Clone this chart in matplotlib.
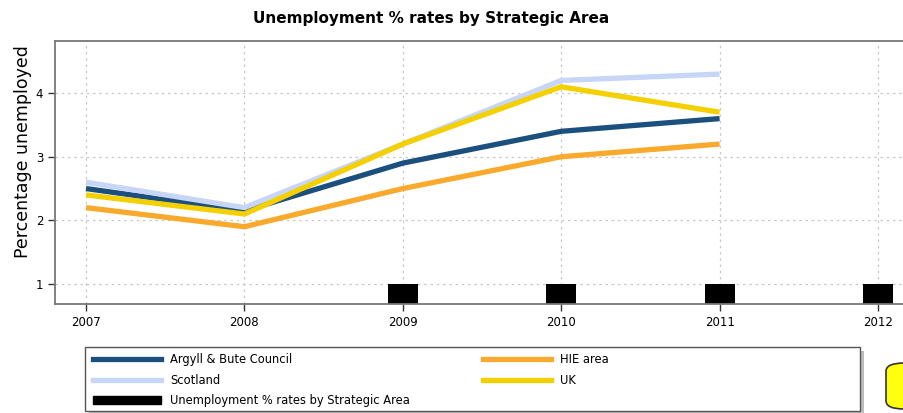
import matplotlib.pyplot as plt
from matplotlib.patches import Rectangle, FancyBboxPatch
from matplotlib.lines import Line2D

plt.rcParams['font.family'] = ['DejaVu Sans']

# ==== DATA ====
years = [2007, 2008, 2009, 2010, 2011]
argyll = [2.5, 2.15, 2.9, 3.4, 3.6]
scotland = [2.6, 2.2, 3.2, 4.2, 4.3]
hie = [2.2, 1.9, 2.5, 3.0, 3.2]
uk = [2.4, 2.1, 3.2, 4.1, 3.7]

bar_years = [2009, 2010, 2011, 2012]
bar_values = [1, 1, 1, 1]

series = [
    ("Argyll & Bute Council", argyll, '#1b4f7e'),
    ("Scotland", scotland, '#c7d5f6'),
    ("HIE area", hie, '#f9aa2c'),
    ("UK", uk, '#f4d000'),
]

# ==== FIGURE ====
fig = plt.figure(figsize=(9.04, 4.13), dpi=100, facecolor='white')
ax = fig.add_axes([55 / 904, 1 - 304 / 413, (913 - 55) / 904, (304 - 41) / 413])

ax.bar(bar_years, bar_values, width=0.19, color='black', zorder=2)
for name, vals, col in series:
    ax.plot(years, vals, color=col, lw=3.8, solid_capstyle='butt', zorder=3)

ax.set_xlim(2006.804, 2012.221)
ax.set_ylim(0.685, 4.82)
ax.set_xticks([2007, 2008, 2009, 2010, 2011, 2012])
ax.set_yticks([1, 2, 3, 4])
ax.grid(True, color='#c8c8c8', linestyle=(0, (2, 3)), lw=0.9, zorder=0)
ax.tick_params(labelsize=8.5, length=5, width=1, colors='#333333', labelcolor='black')
for s in ax.spines.values():
    s.set_color('#777777')
    s.set_linewidth(1.3)

ax.set_ylabel("Percentage unemployed", fontsize=12.5)
ax.yaxis.set_label_coords(-0.027, 0.58)
fig.text(0.477, 0.955, "Unemployment % rates by Strategic Area",
         ha='center', va='center', fontsize=11, fontweight='bold')

# ==== LEGEND ====
W, H = 904, 413
shadow = Rectangle((89 / W, 1 - 415 / H), (860 - 85) / W, 64 / H,
                   transform=fig.transFigure, facecolor='#bdbdbd', edgecolor='none', zorder=1)
box = Rectangle((85 / W, 1 - 411 / H), (860 - 85) / W, 64 / H,
                transform=fig.transFigure, facecolor='white', edgecolor='#555555', lw=1, zorder=2)
fig.patches.extend([shadow, box])

handles = [
    Line2D([], [], color=series[0][2], lw=3.8),
    Line2D([], [], color=series[1][2], lw=3.8),
    Rectangle((0, 0), 1, 1, color='black'),
    Line2D([], [], color=series[2][2], lw=3.8),
    Line2D([], [], color=series[3][2], lw=3.8),
]
labels = [series[0][0], series[1][0], "Unemployment % rates by Strategic Area",
          series[2][0], series[3][0]]
leg = fig.legend(handles, labels, ncol=2, frameon=False, fontsize=8.3,
                 loc='upper left', bbox_to_anchor=(89 / W, 1 - 349 / H),
                 handlelength=5.9, handletextpad=0.8, columnspacing=6.3,
                 labelspacing=0.66, borderaxespad=0.0, borderpad=0.35)
leg.set_zorder(3)

# yellow button stub at the right edge
btn = FancyBboxPatch((886 / W, 1 - 409 / H), 40 / W, 46 / H,
                     boxstyle='round,pad=0,rounding_size=0.02',
                     transform=fig.transFigure, facecolor='#ffff10',
                     edgecolor='#333333', lw=1.2, zorder=2)
fig.patches.append(btn)

fig.savefig('out.png', dpi=100, facecolor='white')
